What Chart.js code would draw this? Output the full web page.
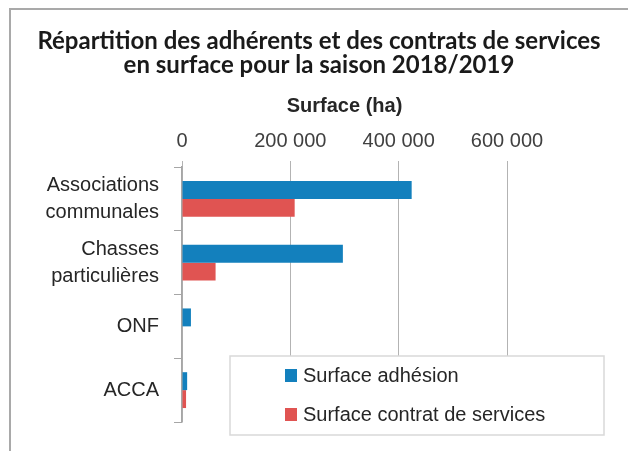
<!DOCTYPE html>
<html>
<head>
<meta charset="utf-8">
<script src="https://cdn.jsdelivr.net/npm/chart.js@4.4.1/dist/chart.umd.min.js"></script>
<style>
    body { margin: 0; background: #ffffff; }
    #wrap { position: relative; width: 628px; height: 451px; }
</style>
</head>
<body>
<div id="wrap"><canvas id="graphique"></canvas></div>
<script>
// Données
const categories = [['Associations', 'communales'], ['Chasses', 'particulières'], 'ONF', 'ACCA'];
const surfaceAdhesion = [424000, 297000, 16500, 9500];
const surfaceContrat = [208000, 62000, 0, 7500];
const ticksX = [0, 200000, 400000, 600000];

const bleu = '#1380bd';
const rouge = '#e05452';

// Format "200 000"
function formatNombre(v) {
    return String(v).replace(/\B(?=(\d{3})+(?!\d))/g, ' ');
}

// Cadre gris (haut et gauche)
const cadre = {
    id: 'cadre',
    beforeDraw(chart) {
        const ctx = chart.ctx;
        ctx.save();
        ctx.strokeStyle = '#a9a9a9';
        ctx.lineWidth = 2;
        ctx.beginPath();
        ctx.moveTo(10, 451);
        ctx.lineTo(10, 9);
        ctx.lineTo(628, 9);
        ctx.stroke();
        ctx.restore();
    }
};

// Légende dans la zone du graphique, avec bordure
const legendeInterne = {
    id: 'legendeInterne',
    afterDraw(chart) {
        const ctx = chart.ctx;
        const x = 230, y = 356, w = 374, h = 79;
        ctx.save();
        ctx.fillStyle = '#ffffff';
        ctx.fillRect(x, y, w, h);
        ctx.strokeStyle = '#d9d9d9';
        ctx.lineWidth = 1.5;
        ctx.strokeRect(x, y, w, h);
        ctx.font = '20px "Liberation Sans", Arial, sans-serif';
        ctx.textBaseline = 'middle';
        chart.data.datasets.forEach((ds, i) => {
            const cy = y + 19 + i * 39;
            ctx.fillStyle = ds.backgroundColor;
            ctx.fillRect(285, cy - 6, 12, 13);
            ctx.fillStyle = '#262626';
            ctx.fillText(ds.label, 303, cy + 1);
        });
        ctx.restore();
    }
};

const ctx = document.getElementById('graphique').getContext('2d');
new Chart(ctx, {
    type: 'bar',
    data: {
        labels: categories,
        datasets: [{
            label: 'Surface adhésion',
            data: surfaceAdhesion,
            backgroundColor: bleu,
            categoryPercentage: 0.5625,
            barPercentage: 1
        }, {
            label: 'Surface contrat de services',
            data: surfaceContrat,
            backgroundColor: rouge,
            categoryPercentage: 0.5625,
            barPercentage: 1
        }]
    },
    options: {
        indexAxis: 'y',
        responsive: true,
        maintainAspectRatio: false,
        animation: false,
        layout: { padding: { left: 10, right: 0, top: 29, bottom: 29 } },
        scales: {
            x: {
                position: 'top',
                min: 0,
                max: 600000,
                afterBuildTicks: (scale) => { scale.ticks = ticksX.map(v => ({ value: v })); },
                afterFit: (scale) => { scale.height = 73; },
                title: {
                    display: true,
                    text: 'Surface (ha)',
                    color: '#262626',
                    font: { family: '"Liberation Sans", Arial', size: 20, weight: 'bold' },
                    padding: { top: 0, bottom: 4 }
                },
                ticks: {
                    color: '#404040',
                    font: { family: '"Liberation Sans", Arial', size: 20 },
                    padding: 8,
                    callback: (v) => formatNombre(v)
                },
                grid: { color: '#b3b3b3', lineWidth: 1, tickLength: 6 },
                border: { display: false }
            },
            y: {
                afterFit: (scale) => {
                    scale.width = 172;
                    scale.paddingTop = 0;
                    scale.paddingBottom = 0;
                },
                ticks: {
                    color: '#262626',
                    font: { family: '"Liberation Sans", Arial', size: 20, lineHeight: 1.35 },
                    padding: 15
                },
                grid: { offset: true, drawOnChartArea: false, color: '#a6a6a6', tickLength: 8 },
                border: { color: '#a6a6a6', width: 1.5 }
            },
            // axe vide à droite pour réserver la marge
            marge: {
                type: 'category',
                position: 'right',
                display: true,
                afterFit: (scale) => { scale.width = 121; },
                ticks: { display: false },
                grid: { display: false },
                border: { display: false }
            }
        },
        plugins: {
            legend: { display: false },
            tooltip: { enabled: false },
            title: {
                display: true,
                text: ['Répartition des adhérents et des contrats de services', 'en surface pour la saison 2018/2019'],
                color: '#1a1a1a',
                font: { family: 'Lato', size: 24, weight: 'bold', lineHeight: 1.0 },
                padding: { top: 0, bottom: 17 }
            }
        }
    },
    plugins: [cadre, legendeInterne]
});
</script>
</body>
</html>
